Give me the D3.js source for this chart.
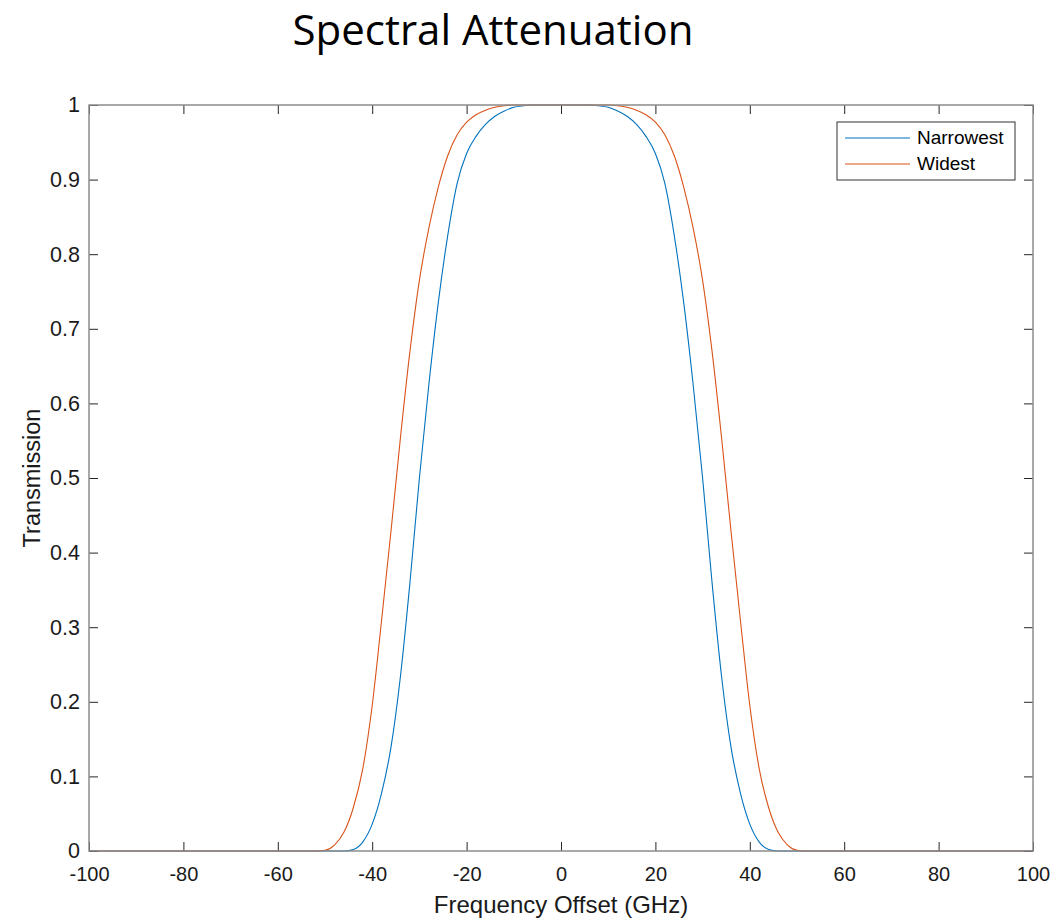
<!DOCTYPE html>
<html>
<head>
<meta charset="utf-8">
<script src="https://cdn.jsdelivr.net/npm/d3@7"></script>
<style>
  body { margin: 0; background: #fff; }
  svg { display: block; }
  .tick text { font-family: "Liberation Sans", Arial, sans-serif; fill: #1a1a1a; }
</style>
</head>
<body>
<script>
const width = 1058;
const height = 920;

// frequency offset (GHz) and transmission
const freq = [-100, -60, -52, -50, -48, -46, -44, -42, -40, -38, -36, -34, -32, -30, -28, -26, -24, -22, -20, -18, -16, -14, -12, -10, -8, -6, 0, 6, 8, 10, 12, 14, 16, 18, 20, 22, 24, 26, 28, 30, 32, 34, 36, 38, 40, 42, 44, 46, 48, 50, 52, 60, 100];
const narrowest = [0, 0, 0, 0, 0, 0, 0.002, 0.012, 0.036, 0.078, 0.14, 0.235, 0.36, 0.5, 0.625, 0.735, 0.825, 0.895, 0.935, 0.958, 0.974, 0.985, 0.992, 0.997, 0.999, 1, 1, 1, 0.999, 0.997, 0.992, 0.985, 0.974, 0.958, 0.935, 0.895, 0.825, 0.735, 0.625, 0.5, 0.36, 0.235, 0.14, 0.078, 0.036, 0.012, 0.002, 0, 0, 0, 0, 0, 0];
const widest = [0, 0, 0, 0.001, 0.008, 0.025, 0.058, 0.11, 0.195, 0.31, 0.43, 0.555, 0.67, 0.765, 0.835, 0.89, 0.932, 0.96, 0.977, 0.987, 0.993, 0.997, 0.999, 1, 1, 1, 1, 1, 1, 1, 0.999, 0.997, 0.993, 0.987, 0.977, 0.96, 0.932, 0.89, 0.835, 0.765, 0.67, 0.555, 0.43, 0.31, 0.195, 0.11, 0.058, 0.025, 0.008, 0.001, 0, 0, 0];

const seriesNames = ["Narrowest", "Widest"];
const seriesColors = ["#0072BD", "#D95319"];
const xTicks = [-100, -80, -60, -40, -20, 0, 20, 40, 60, 80, 100];
const yTicks = [0, 0.1, 0.2, 0.3, 0.4, 0.5, 0.6, 0.7, 0.8, 0.9, 1];

const margin = { left: 89, right: 25, top: 105, bottom: 69 };

const svg = d3.create("svg")
  .attr("width", width)
  .attr("height", height)
  .attr("viewBox", [0, 0, width, height]);

const x = d3.scaleLinear().domain([-100, 100]).range([margin.left, width - margin.right]);
const y = d3.scaleLinear().domain([0, 1]).range([height - margin.bottom, margin.top]);

svg.append("text")
  .attr("x", 493)
  .attr("y", 45)
  .attr("text-anchor", "middle")
  .attr("font-family", "'Open Sans', sans-serif")
  .attr("font-size", 42)
  .attr("fill", "#000")
  .text("Spectral Attenuation");

// lines
const series = [narrowest, widest];
const line = d3.line()
  .x((d) => x(d[0]))
  .y((d) => y(d[1]))
  .curve(d3.curveMonotoneX);

series.forEach((vals, i) => {
  svg.append("path")
    .datum(freq.map((f, j) => [f, vals[j]]))
    .attr("fill", "none")
    .attr("stroke", seriesColors[i])
    .attr("stroke-width", 1.1)
    .attr("d", line);
});

const fmt = (d) => String(+d.toFixed(1));
const tickLen = 9;

const styleAxis = (g) => {
  g.select(".domain").remove();
  g.selectAll(".tick line").attr("stroke", "#262626").attr("stroke-width", 1);
};

svg.append("g")
  .attr("transform", `translate(0,${y(0)})`)
  .call(d3.axisBottom(x).tickValues(xTicks).tickFormat(fmt).tickSizeInner(-tickLen).tickPadding(18))
  .call(styleAxis)
  .call((g) => g.selectAll(".tick text").attr("font-size", 20).attr("dy", "0.6em"));

svg.append("g")
  .attr("transform", `translate(0,${y(1)})`)
  .call(d3.axisTop(x).tickValues(xTicks).tickFormat("").tickSizeInner(-tickLen))
  .call(styleAxis);

svg.append("g")
  .attr("transform", `translate(${x(-100)},0)`)
  .call(d3.axisLeft(y).tickValues(yTicks).tickFormat(fmt).tickSizeInner(-tickLen).tickPadding(9))
  .call(styleAxis)
  .call((g) => g.selectAll(".tick text").attr("font-size", 21.5));

svg.append("g")
  .attr("transform", `translate(${x(100)},0)`)
  .call(d3.axisRight(y).tickValues(yTicks).tickFormat("").tickSizeInner(-tickLen))
  .call(styleAxis);

// box
svg.append("rect")
  .attr("x", x(-100))
  .attr("y", y(1))
  .attr("width", x(100) - x(-100))
  .attr("height", y(0) - y(1))
  .attr("fill", "none")
  .attr("stroke", "#8c8c8c")
  .attr("stroke-width", 1.5);

// axis labels
svg.append("text")
  .attr("x", x(0))
  .attr("y", 913)
  .attr("text-anchor", "middle")
  .attr("font-family", "'Liberation Sans', Arial, sans-serif")
  .attr("font-size", 24)
  .attr("fill", "#1a1a1a")
  .text("Frequency Offset (GHz)");

svg.append("text")
  .attr("transform", `translate(40,${y(0.5)}) rotate(-90)`)
  .attr("text-anchor", "middle")
  .attr("font-family", "'Liberation Sans', Arial, sans-serif")
  .attr("font-size", 23.5)
  .attr("fill", "#1a1a1a")
  .text("Transmission");

// legend
const legend = svg.append("g").attr("transform", "translate(837,122)");
legend.append("rect")
  .attr("width", 178)
  .attr("height", 58)
  .attr("fill", "#fff")
  .attr("stroke", "#333")
  .attr("stroke-width", 1);

seriesNames.forEach((name, i) => {
  const ly = 16 + i * 26;
  legend.append("line")
    .attr("x1", 8).attr("x2", 73)
    .attr("y1", ly).attr("y2", ly)
    .attr("stroke", seriesColors[i])
    .attr("stroke-width", 1.1);
  legend.append("text")
    .attr("x", 80)
    .attr("y", ly + 6)
    .attr("font-family", "'Liberation Sans', Arial, sans-serif")
    .attr("font-size", 19)
    .attr("fill", "#000")
    .text(name);
});

document.body.appendChild(svg.node());
</script>
</body>
</html>
